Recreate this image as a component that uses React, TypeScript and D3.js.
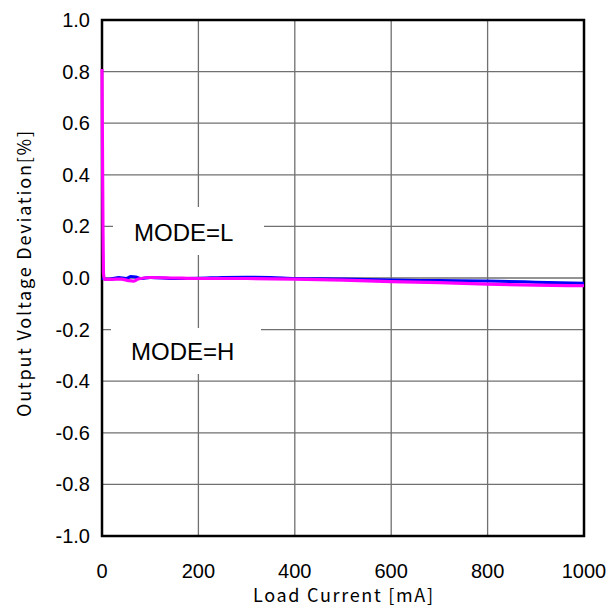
import React from "react";
import * as d3 from "d3";

const xTicks = [0, 200, 400, 600, 800, 1000];
const yTicks = [1.0, 0.8, 0.6, 0.4, 0.2, 0.0, -0.2, -0.4, -0.6, -0.8, -1.0];

const modeH: [number, number][] = [
  [0, 0], [10, -0.005], [20, -0.003], [35, 0.002], [50, -0.002], [60, 0.006], [70, 0.004],
  [80, -0.002], [100, 0.002], [150, -0.002], [200, -0.001], [250, 0.002], [300, 0.003],
  [350, 0.002], [400, -0.002], [500, -0.004], [600, -0.008], [700, -0.01], [800, -0.012],
  [900, -0.016], [1000, -0.02],
];

const modeL: [number, number][] = [
  [0, 0.81], [1, 0.5], [2, 0.2], [3, 0.02], [5, -0.005], [20, -0.005], [40, -0.004],
  [55, -0.01], [65, -0.012], [75, -0.004], [100, 0.002], [150, 0], [200, -0.002],
  [300, -0.002], [400, -0.004], [500, -0.008], [600, -0.014], [700, -0.018], [800, -0.024],
  [900, -0.028], [1000, -0.03],
];

const W = 609, H = 608;
const L = 102, R = 584, T = 20, B = 536;

export default function App() {
  const x = d3.scaleLinear().domain([0, 1000]).range([L, R]);
  const y = d3.scaleLinear().domain([-1, 1]).range([B, T]);
  const line = d3.line<[number, number]>().x(d => x(d[0])).y(d => y(d[1])).curve(d3.curveMonotoneX);
  const font = "'Liberation Sans', Arial, sans-serif";
  const jp = "'Noto Sans CJK JP', sans-serif";
  return (
    <svg width={W} height={H} style={{ position: "absolute", left: 0, top: 0, background: "#fff" }}>
      <rect x={0} y={0} width={W} height={H} fill="#fff" />
      {xTicks.map(t => (
        <line key={"gx" + t} x1={x(t)} x2={x(t)} y1={T} y2={B} stroke="#707070" strokeWidth={1.3} />
      ))}
      {yTicks.map(t => (
        <line key={"gy" + t} x1={L} x2={R} y1={y(t)} y2={y(t)} stroke="#707070" strokeWidth={1.3} />
      ))}
      <rect x={113} y={207} width={151} height={48} fill="#fff" />
      <rect x={111} y={328} width={150} height={46} fill="#fff" />
      <text x={134} y={241} fontFamily={font} fontSize={24} fill="#000">MODE=L</text>
      <text x={131} y={360} fontFamily={font} fontSize={24} fill="#000">MODE=H</text>
      <rect x={L} y={T} width={R - L} height={B - T} fill="none" stroke="#000" strokeWidth={2.5} />
      <path d={line(modeH) || ""} fill="none" stroke="#0000ff" strokeWidth={3} />
      <path d={line(modeL) || ""} fill="none" stroke="#ff00ff" strokeWidth={3.2} />
      {yTicks.map(t => (
        <text key={"yl" + t} x={90} y={y(t)} dy="0.35em" textAnchor="end" fontFamily={font} fontSize={20}>
          {t.toFixed(1)}
        </text>
      ))}
      {xTicks.map(t => (
        <text key={"xl" + t} x={x(t)} y={578} textAnchor="middle" fontFamily={font} fontSize={20}>
          {t}
        </text>
      ))}
      <text x={343} y={602} textAnchor="middle" fontFamily={jp} fontSize={18} textLength={180} lengthAdjust="spacing">
        Load Current [mA]
      </text>
      <text transform={`translate(31,274) rotate(-90)`} textAnchor="middle" fontFamily={jp} fontSize={18} textLength={286} lengthAdjust="spacing">
        Output Voltage Deviation[%]
      </text>
    </svg>
  );
}
